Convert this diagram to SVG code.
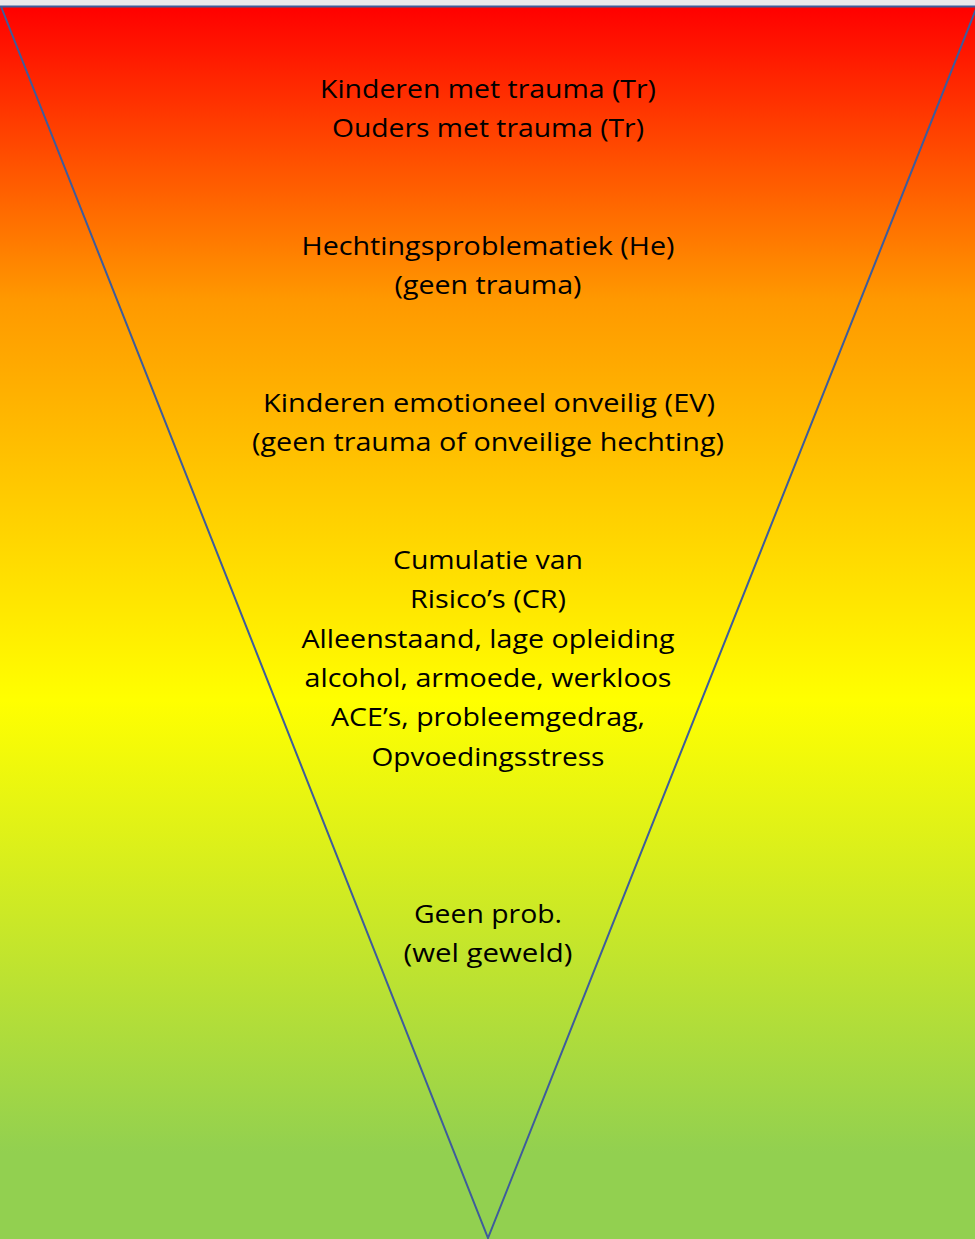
<svg xmlns="http://www.w3.org/2000/svg" width="975" height="1239" viewBox="0 0 975 1239">
  <defs>
    <linearGradient id="bg" gradientUnits="userSpaceOnUse" x1="0" y1="7" x2="0" y2="1239">
      <stop offset="0" stop-color="#FF0000"/>
      <stop offset="0.238" stop-color="#FF9900"/>
      <stop offset="0.563" stop-color="#FFFF00"/>
      <stop offset="0.93" stop-color="#92D050"/>
      <stop offset="1" stop-color="#92D050"/>
    </linearGradient>
    <style>
      .t { font-family: "Open Sans", "Liberation Sans", sans-serif; font-size: 26px; fill: #000; text-anchor: middle; }
      .edge { fill: none; stroke: #3E5C9C; stroke-width: 2; stroke-linejoin: miter; }
    </style>
  </defs>
  <rect x="0" y="0" width="975" height="7" fill="#E9E8EC"/>
  <rect x="0" y="6" width="975" height="1233" fill="url(#bg)"/>
  <g id="connectors">
    <path class="edge" d="M0,6.5 L977,6.5 L488,1238 L1,6.5"/>
  </g>
  <g id="node-trauma">
    <text class="t" x="488" y="98" textLength="336" lengthAdjust="spacingAndGlyphs">Kinderen met trauma (Tr)</text>
    <text class="t" x="488" y="137" textLength="312" lengthAdjust="spacingAndGlyphs">Ouders met trauma (Tr)</text>
  </g>
  <g id="node-hechting">
    <text class="t" x="488" y="255" textLength="373" lengthAdjust="spacingAndGlyphs">Hechtingsproblematiek (He)</text>
    <text class="t" x="488" y="294" textLength="187" lengthAdjust="spacingAndGlyphs">(geen trauma)</text>
  </g>
  <g id="node-emotioneel">
    <text class="t" x="489" y="412" textLength="452" lengthAdjust="spacingAndGlyphs">Kinderen emotioneel onveilig (EV)</text>
    <text class="t" x="488" y="451" textLength="472" lengthAdjust="spacingAndGlyphs">(geen trauma of onveilige hechting)</text>
  </g>
  <g id="node-cumulatie">
    <text class="t" x="488" y="569" textLength="190" lengthAdjust="spacingAndGlyphs">Cumulatie van</text>
    <text class="t" x="488" y="608" textLength="156" lengthAdjust="spacingAndGlyphs">Risico’s (CR)</text>
    <text class="t" x="488" y="648" textLength="373" lengthAdjust="spacingAndGlyphs">Alleenstaand, lage opleiding</text>
    <text class="t" x="488" y="687" textLength="367" lengthAdjust="spacingAndGlyphs">alcohol, armoede, werkloos</text>
    <text class="t" x="488" y="726" textLength="314" lengthAdjust="spacingAndGlyphs">ACE’s, probleemgedrag,</text>
    <text class="t" x="488" y="766" textLength="233" lengthAdjust="spacingAndGlyphs">Opvoedingsstress</text>
  </g>
  <g id="node-geen">
    <text class="t" x="488" y="923" textLength="148" lengthAdjust="spacingAndGlyphs">Geen prob.</text>
    <text class="t" x="488" y="962" textLength="169" lengthAdjust="spacingAndGlyphs">(wel geweld)</text>
  </g>
</svg>
